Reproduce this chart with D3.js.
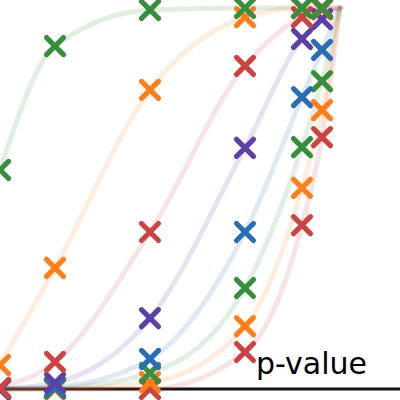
<!DOCTYPE html>
<html>
<head>
<meta charset="utf-8">
<script src="https://cdn.jsdelivr.net/npm/d3@7"></script>
<style>
  body { margin: 0; background: #fff; }
  svg { display: block; }
</style>
</head>
<body>
<div id="chart"></div>
<script>
// sample positions along x (last one is where every curve reaches 1)
const xSteps = [0, 55, 150, 245, 302, 322, 340];
const markerSteps = 6; // markers drawn on the first six positions only

const seriesNames = ['s1', 's2', 's3', 's4', 's5', 's6', 's7', 's8'];
const seriesColors = ['#388e3c', '#fd7f1c', '#cc4441', '#5e3fa8', '#2b6db5', '#388e3c', '#fd7f1c', '#cc4441'];

// power values per series
const green1  = [0.575, 0.900, 0.995, 1.000, 1.000, 1.000, 1.000];
const orange1 = [0.063, 0.318, 0.785, 0.976, 1.000, 1.000, 1.000];
const red1    = [0.003, 0.071, 0.412, 0.848, 0.976, 0.997, 1.000];
const purple1 = [0.000, 0.016, 0.186, 0.633, 0.919, 0.971, 1.000];
const blue1   = [0.000, 0.005, 0.079, 0.412, 0.766, 0.890, 1.000];
const green2  = [0.000, 0.002, 0.042, 0.265, 0.635, 0.808, 1.000];
const orange2 = [0.000, 0.000, 0.018, 0.165, 0.528, 0.732, 1.000];
const red2    = [0.000, 0.000, 0.000, 0.097, 0.430, 0.661, 1.000];

const seriesValues = [green1, orange1, red1, purple1, blue1, green2, orange2, red2];

const axisLabel = 'p-value';

const width = 400, height = 400;

const x = d3.scaleLinear().domain([0, 400]).range([0, 400]);
const y = d3.scaleLinear().domain([0, 1]).range([389, 8]);

const series = seriesNames.map((name, i) => ({
  name: name,
  color: seriesColors[i],
  points: seriesValues[i].map((v, j) => ({ x: xSteps[j], y: v }))
}));

const svg = d3.select('#chart').append('svg')
  .attr('width', width)
  .attr('height', height);

// baseline
svg.append('line')
  .attr('x1', 0)
  .attr('x2', width)
  .attr('y1', y(0))
  .attr('y2', y(0))
  .attr('stroke', '#111')
  .attr('stroke-width', 3);

const line = d3.line()
  .x(d => x(d.x))
  .y(d => y(d.y))
  .curve(d3.curveMonotoneX);

svg.selectAll('.curve')
  .data(series)
  .enter().append('path')
  .attr('class', 'curve')
  .attr('d', d => line(d.points))
  .attr('fill', 'none')
  .attr('stroke', d => d.color)
  .attr('stroke-opacity', 0.15)
  .attr('stroke-width', 5)
  .attr('stroke-linecap', 'round')
  .attr('stroke-linejoin', 'round');

// markers: earlier series end up on top, so draw in reverse
const cross = d3.symbol(d3.symbolX, 190);

svg.selectAll('.marks')
  .data(series.slice().reverse())
  .enter().append('g')
  .attr('class', 'marks')
  .each(function(s){
    d3.select(this).selectAll('path')
      .data(s.points.slice(0, markerSteps))
      .enter().append('path')
      .attr('d', cross)
      .attr('transform', d => 'translate(' + x(d.x) + ',' + y(d.y) + ')')
      .attr('fill', 'none')
      .attr('stroke', s.color)
      .attr('stroke-width', 5.2)
      .attr('stroke-linecap', 'round');
  });

svg.append('text')
  .attr('x', 256)
  .attr('y', 374)
  .attr('font-family', 'DejaVu Sans')
  .attr('font-size', 30)
  .attr('fill', '#000')
  .text(axisLabel);
</script>
</body>
</html>
